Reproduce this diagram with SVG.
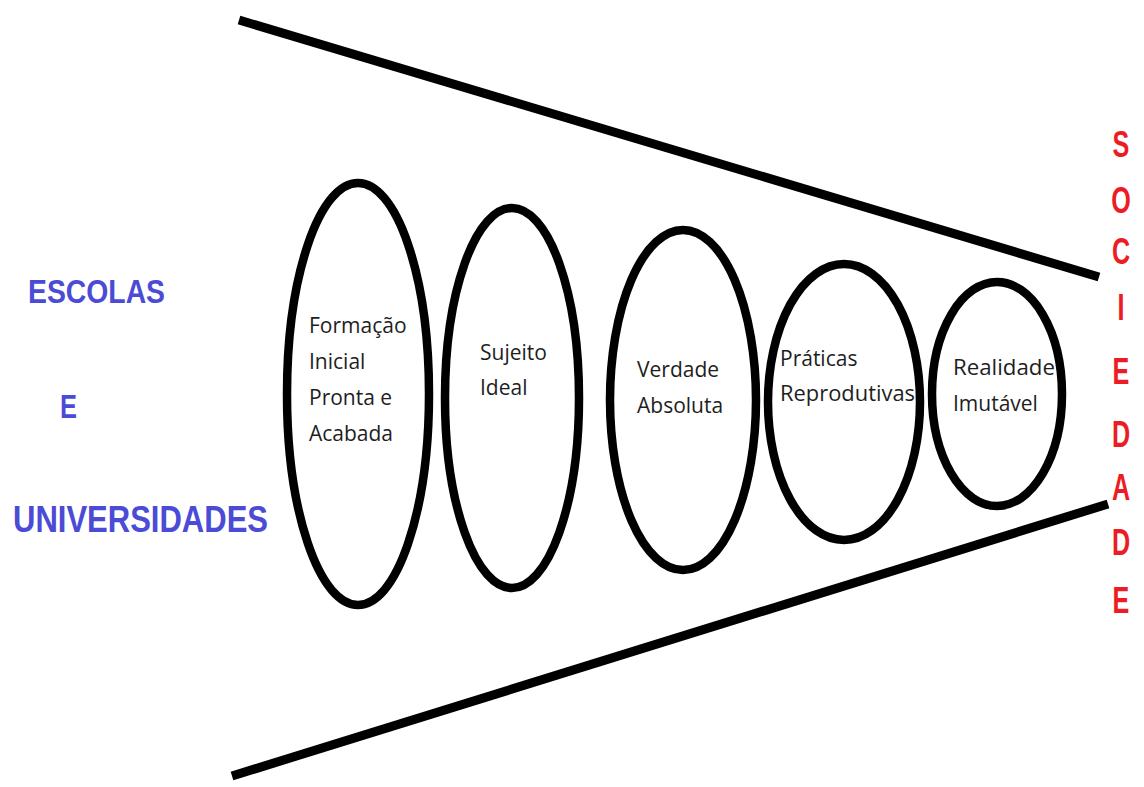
<svg xmlns="http://www.w3.org/2000/svg" width="1144" height="787" viewBox="0 0 1144 787">
<style>
.bound{stroke:#000;stroke-width:9;fill:none;stroke-linecap:butt}
.oval{stroke:#000;stroke-width:8.5;fill:none}
.lbl{font-family:"Open Sans","Liberation Sans",sans-serif;font-size:21px;fill:#1e1e1e}
.side{font-family:"Liberation Sans",Arial,sans-serif;font-weight:bold;fill:#4b4bd6}
.soc{font-family:"Liberation Sans",Arial,sans-serif;font-weight:bold;font-size:37px;fill:#ec1c24;text-anchor:middle}
</style>
<rect width="1144" height="787" fill="#fff"/>
<g id="connectors">
<line class="bound" x1="239" y1="20" x2="1099" y2="277"/>
<line class="bound" x1="232" y1="776" x2="1108" y2="504"/>
</g>
<g id="escolas-universidades">
<text class="side" x="28" y="303" font-size="34" textLength="137" lengthAdjust="spacingAndGlyphs">ESCOLAS</text>
<text class="side" x="60" y="418" font-size="34" textLength="17" lengthAdjust="spacingAndGlyphs">E</text>
<text class="side" x="13" y="532" font-size="36" textLength="255" lengthAdjust="spacingAndGlyphs">UNIVERSIDADES</text>
</g>
<g id="node-formacao">
<ellipse class="oval" cx="358" cy="394" rx="71" ry="211"/>
<text class="lbl" x="309" y="333">Formação</text>
<text class="lbl" x="309" y="369">Inicial</text>
<text class="lbl" x="309" y="405">Pronta e</text>
<text class="lbl" x="309" y="441">Acabada</text>
</g>
<g id="node-sujeito">
<ellipse class="oval" cx="512" cy="398" rx="67" ry="190"/>
<text class="lbl" x="480" y="360">Sujeito</text>
<text class="lbl" x="480" y="395">Ideal</text>
</g>
<g id="node-verdade">
<ellipse class="oval" cx="683" cy="400" rx="73" ry="170"/>
<text class="lbl" x="637" y="377">Verdade</text>
<text class="lbl" x="637" y="413">Absoluta</text>
</g>
<g id="node-praticas">
<ellipse class="oval" cx="844" cy="402" rx="76" ry="138"/>
<text class="lbl" x="780" y="366">Práticas</text>
<text class="lbl" x="780" y="401" textLength="135" lengthAdjust="spacingAndGlyphs">Reprodutivas</text>
</g>
<g id="node-realidade">
<ellipse class="oval" cx="997" cy="394" rx="65" ry="112"/>
<text class="lbl" x="953" y="375" textLength="102" lengthAdjust="spacingAndGlyphs">Realidade</text>
<text class="lbl" x="953" y="411">Imutável</text>
</g>
<g id="sociedade" transform="translate(1121,0) scale(0.68,1)">
<text class="soc" x="0" y="157">S</text>
<text class="soc" x="0" y="213">O</text>
<text class="soc" x="0" y="264">C</text>
<text class="soc" x="0" y="320">I</text>
<text class="soc" x="0" y="384">E</text>
<text class="soc" x="0" y="447">D</text>
<text class="soc" x="0" y="500">A</text>
<text class="soc" x="0" y="555">D</text>
<text class="soc" x="0" y="613">E</text>
</g>
</svg>
